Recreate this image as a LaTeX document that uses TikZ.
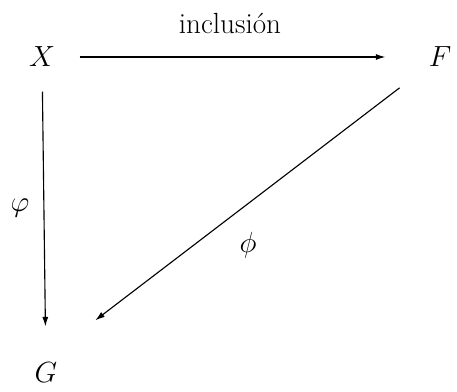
\documentclass[tikz,border=0pt]{standalone}
\usepackage{amsmath}
\usepackage{tikz}
\usetikzlibrary{arrows.meta, positioning}

\begin{document}
\begin{tikzpicture}[font=\huge, thick, >={Latex[length=2.4mm,width=1.5mm]}]
    \useasboundingbox (0,0) rectangle (11.425,9.775);
    \node[inner sep=0pt] (X) at (1.05,8.35) {$X$};
    \node[inner sep=0pt] (F) at (11.0,8.35) {$F$};
    \node[inner sep=0pt] (G) at (1.15,0.45) {$G$};

    \node (inc) at (5.75,9.2) {inclusión};
    \node (varphi) at (0.5,4.575) {$\varphi$};
    \node (phi) at (6.2,3.65) {$\phi$};

    \draw[->, shorten <=0.6cm, shorten >=0.9cm] (X) -- (G);
    \draw[->, shorten <=0.6cm, shorten >=1.07cm] (X) -- (F);
    \draw[->, shorten <=0.9cm, shorten >=1.55cm] (F) -- ([yshift=0.375cm]G.center);
\end{tikzpicture}
\end{document}
